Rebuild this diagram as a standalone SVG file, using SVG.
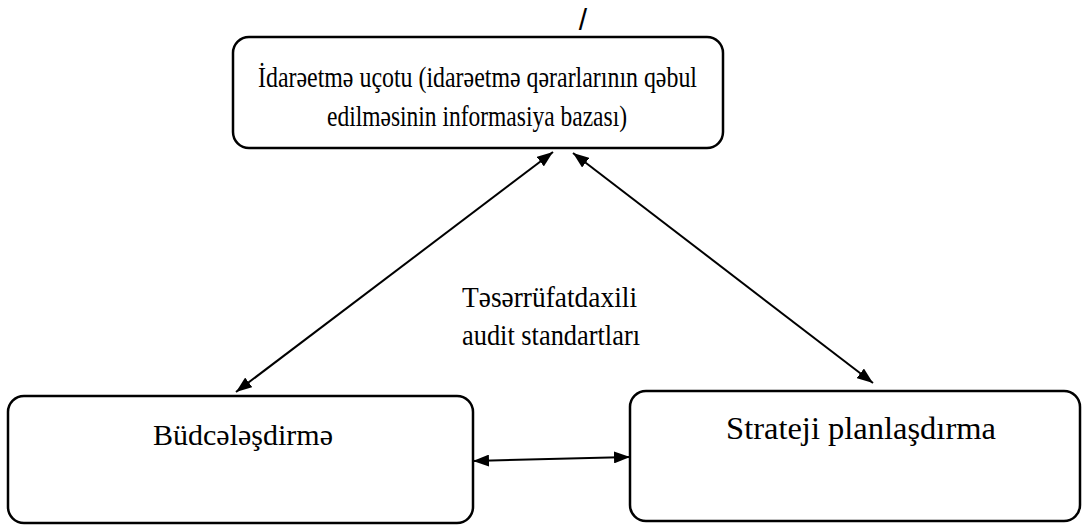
<svg xmlns="http://www.w3.org/2000/svg" width="1084" height="527" viewBox="0 0 1084 527">
  <defs>
    <marker id="ah" viewBox="0 0 16 12" refX="16" refY="6" markerWidth="16" markerHeight="12" markerUnits="userSpaceOnUse" orient="auto-start-reverse">
      <path d="M0,0 L16,6 L0,12 z" fill="#000"/>
    </marker>
  </defs>
  <style>
    .box { fill: #fff; stroke: #000; stroke-width: 2.5; }
    .lbl { font-family: "Liberation Serif", "DejaVu Serif", serif; fill: #000; }
    .edge { stroke: #000; stroke-width: 2; fill: none; marker-start: url(#ah); marker-end: url(#ah); }
  </style>
  <rect width="1084" height="527" fill="#fff"/>

  <text x="583" y="30" text-anchor="middle" font-family="Liberation Sans, sans-serif" font-size="30">/</text>

  <g id="accounting">
    <rect class="box" x="233" y="37" width="490" height="111" rx="16"/>
    <text class="lbl" x="258" y="87" font-size="30" textLength="439" lengthAdjust="spacingAndGlyphs">İdarəetmə uçotu (idarəetmə qərarlarının qəbul</text>
    <text class="lbl" x="327" y="126" font-size="30" textLength="300" lengthAdjust="spacingAndGlyphs">edilməsinin informasiya bazası)</text>
  </g>

  <g id="budgeting">
    <rect class="box" x="8" y="396" width="465" height="127" rx="16"/>
    <text class="lbl" x="243" y="445" font-size="30" text-anchor="middle">Büdcələşdirmə</text>
  </g>

  <g id="strategic">
    <rect class="box" x="630" y="391" width="450" height="130" rx="16"/>
    <text class="lbl" x="861" y="439" font-size="32.5" text-anchor="middle">Strateji planlaşdırma</text>
  </g>

  <g id="audit-note">
    <text class="lbl" x="462" y="307" font-size="30" textLength="175" lengthAdjust="spacingAndGlyphs">Təsərrüfatdaxili</text>
    <text class="lbl" x="462" y="345" font-size="30" textLength="178" lengthAdjust="spacingAndGlyphs">audit standartları</text>
  </g>

  <g id="connectors">
    <line class="edge" x1="553" y1="152" x2="236" y2="392"/>
    <line class="edge" x1="573" y1="153" x2="873" y2="383"/>
    <line class="edge" x1="473" y1="461" x2="630" y2="457" stroke-width="3"/>
  </g>
</svg>
